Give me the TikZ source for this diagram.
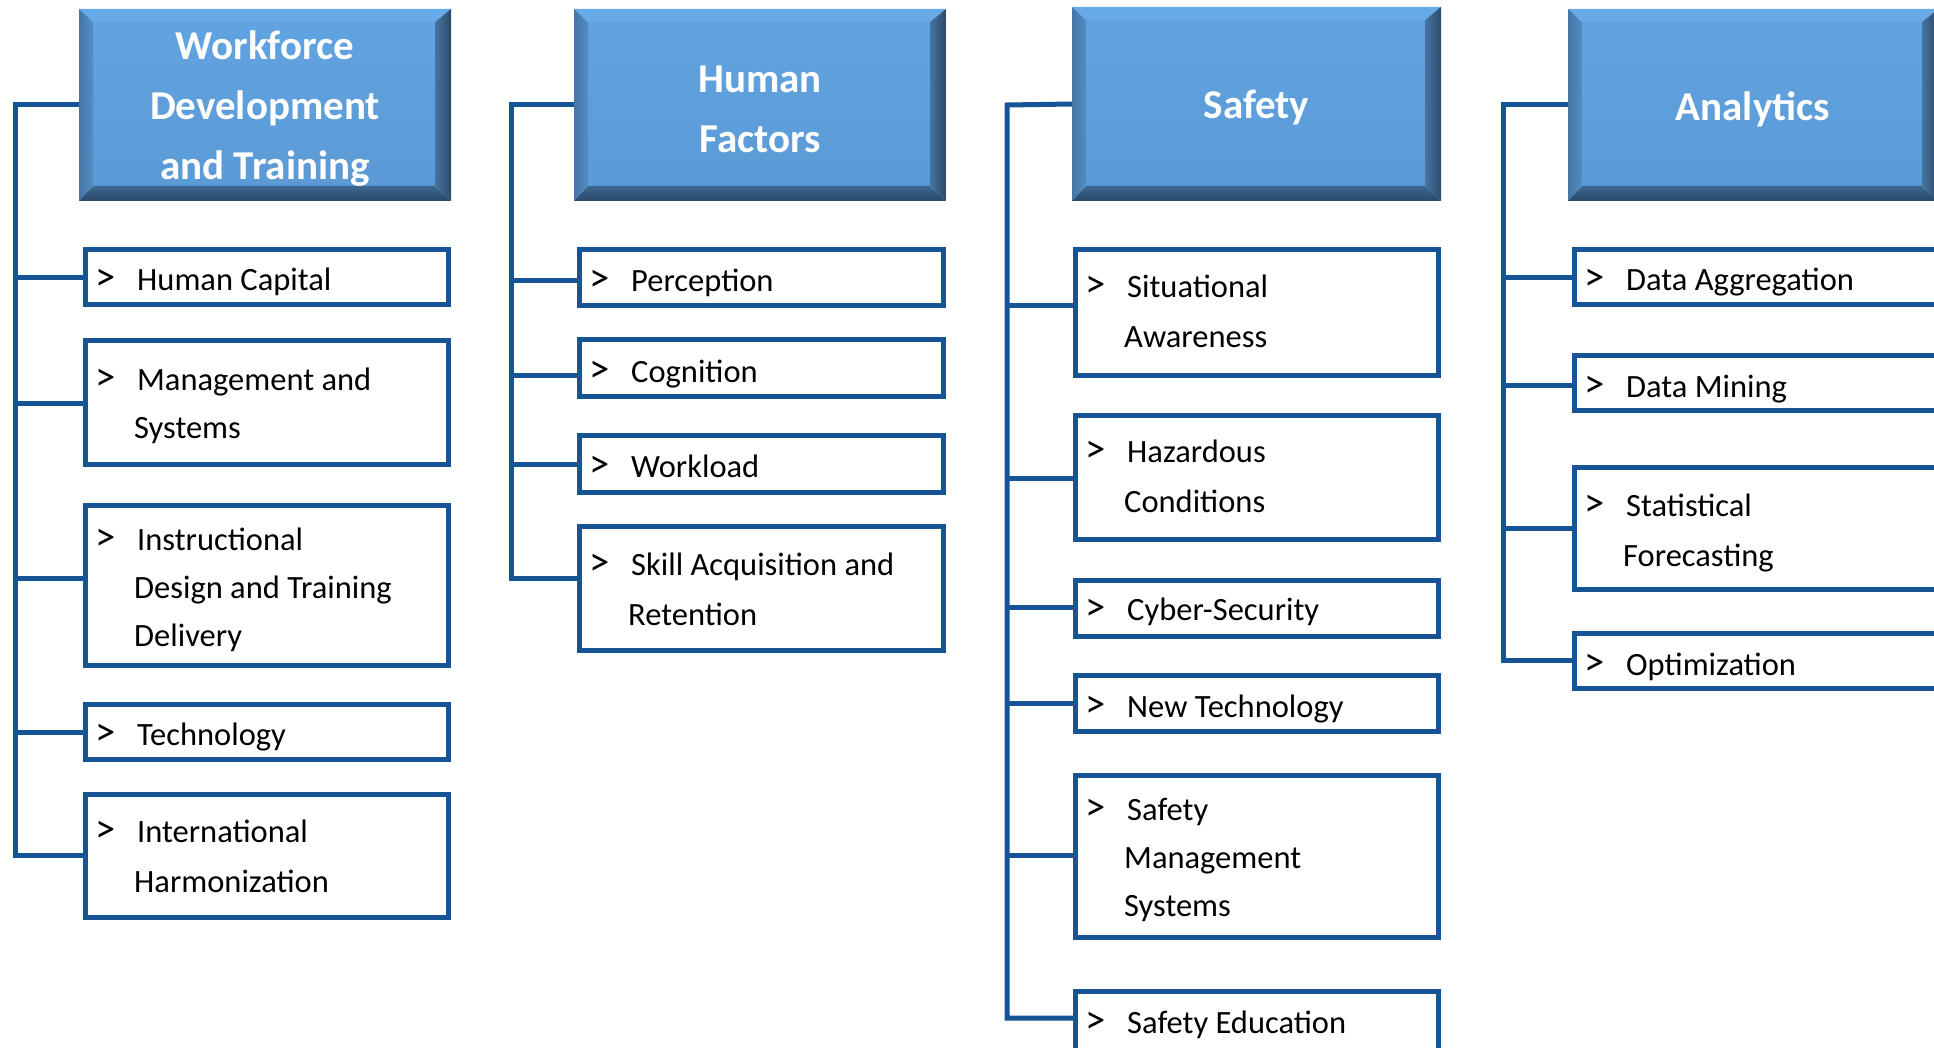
\documentclass[tikz,border=0pt]{standalone}
\usepackage{fontspec}
\setmainfont{Carlito}
\usetikzlibrary{calc}
\definecolor{lineblue}{RGB}{22,84,150}
\definecolor{hface}{RGB}{91,154,213}
\definecolor{hfacetop}{RGB}{97,163,225}
\definecolor{htop}{RGB}{102,170,232}
\definecolor{hleftout}{RGB}{68,117,166}
\definecolor{hleftin}{RGB}{84,141,196}
\definecolor{hrightin}{RGB}{70,116,162}
\definecolor{hrightout}{RGB}{44,74,106}
\definecolor{hbotin}{RGB}{62,104,146}
\definecolor{hbotout}{RGB}{42,72,104}
\tikzset{
  itemframe/.style={draw=lineblue, line width=5pt, fill=white, rectangle, inner sep=0pt},
  itemtext/.style={inner sep=0pt, font=\fontsize{32.5}{39}\selectfont, text=black},
  hdrtext/.style={inner sep=0pt, font=\fontsize{41}{60}\selectfont\bfseries, text=white},
  hdrframe/.style={rectangle, inner sep=0pt, outer sep=0pt, draw=none},
  conn/.style={draw=lineblue, line width=5pt},
}
% header: name, L, T, R, B
\newcommand\mkhdr[5]{%
  \node[hdrframe, anchor=north west, minimum width={#4-#2}, minimum height={#5-#3}] (#1) at (#2,#3) {};
  \coordinate (#1-inw) at ($(#1.north west)+(14,13)$);
  \coordinate (#1-ine) at ($(#1.north east)+(-16,13)$);
  \coordinate (#1-ise) at ($(#1.south east)+(-16,-15)$);
  \coordinate (#1-isw) at ($(#1.south west)+(14,-15)$);
  \shade[top color=hfacetop, bottom color=hface] (#1-inw) rectangle (#1-ise);
  \fill[htop] (#1.north west) -- (#1.north east) -- (#1-ine) -- (#1-inw) -- cycle;
  \shade[left color=hleftout, right color=hleftin] (#1.north west) -- (#1-inw) -- (#1-isw) -- (#1.south west) -- cycle;
  \shade[left color=hrightin, right color=hrightout] (#1.north east) -- (#1.south east) -- (#1-ise) -- (#1-ine) -- cycle;
  \shade[top color=hbotin, bottom color=hbotout] (#1.south west) -- (#1-isw) -- (#1-ise) -- (#1.south east) -- cycle;
}
% item: name, L, T, R, B, first baseline offset, line spacing, lines
\newcommand\mkitem[8]{%
  \node[itemframe, anchor=north west, minimum width={#4-#2-5}, minimum height={#5-#3-5}] (#1) at (#2,#3) {};
  \node[itemtext, anchor=base west] (#1-t) at ({#2+12},{#3+#6}) {\vtop{\baselineskip=#7pt #8}};
}
\newcommand\fl[1]{\hbox{\makebox[42pt][l]{\scalebox{1.25}{>}}#1}}
\newcommand\cl[1]{\hbox{\kern39pt #1}}
\newcommand\hl[1]{\hbox to 0pt{\hss #1\hss}}
\begin{document}
\begin{tikzpicture}[x=1pt,y=-1pt]
\useasboundingbox (0,0) rectangle (1934,1048);
\clip (0,0) rectangle (1934,1048);
\fill[white] (0,0) rectangle (1934,1048);

% ---------- column 1 ----------
\mkhdr{h1}{79}{9}{451}{201}
\node[hdrtext, anchor=base] (h1-t) at (265,60) {\vtop{\hl{Workforce}\hl{Development}\hl{and Training}}};
\mkitem{hc}{83}{247}{451}{307}{44}{48}{\fl{Human Capital}}
\mkitem{ms}{83}{338}{451}{467}{52}{48}{\fl{Management and}\cl{Systems}}
\mkitem{id}{83}{503}{451}{668}{47}{48}{\fl{Instructional}\cl{Design and Training}\cl{Delivery}}
\mkitem{tech}{83}{702}{451}{762}{43}{48}{\fl{Technology}}
\mkitem{ih}{83}{792}{451}{920}{50}{50}{\fl{International}\cl{Harmonization}}
\coordinate (v1t) at (15,105);
\coordinate (v1b) at (15,855);
\draw[conn] (h1.west) -- (v1t) -- (v1b) -- (ih.west |- v1b);
\draw[conn] (v1t |- 0,278) -- (hc.west |- 0,278);
\draw[conn] (v1t |- 0,403) -- (ms.west |- 0,403);
\draw[conn] (v1t |- 0,578) -- (id.west |- 0,578);
\draw[conn] (v1t |- 0,732) -- (tech.west |- 0,732);

% ---------- column 2 ----------
\mkhdr{h2}{574}{9}{946}{201}
\node[hdrtext, anchor=base] (h2-t) at (760,93) {\vtop{\hl{Human}\hl{Factors}}};
\mkitem{perc}{577}{247}{946}{308}{45}{48}{\fl{Perception}}
\mkitem{cog}{577}{337}{946}{399}{45}{48}{\fl{Cognition}}
\mkitem{wl}{577}{433}{946}{495}{44}{48}{\fl{Workload}}
\mkitem{skill}{577}{524}{946}{653}{51}{50}{\fl{Skill Acquisition and}\cl{Retention}}
\coordinate (v2t) at (511,105);
\coordinate (v2b) at (511,578);
\draw[conn] (h2.west) -- (v2t) -- (v2b) -- (skill.west |- v2b);
\draw[conn] (v2t |- 0,281) -- (perc.west |- 0,281);
\draw[conn] (v2t |- 0,375) -- (cog.west |- 0,375);
\draw[conn] (v2t |- 0,464) -- (wl.west |- 0,464);

% ---------- column 3 ----------
\mkhdr{h3}{1072}{7}{1441}{201}
\node[hdrtext, anchor=base] (h3-t) at (1256.5,119) {\vtop{\hl{Safety}}};
\mkitem{sa}{1073}{247}{1441}{378}{51}{50}{\fl{Situational}\cl{Awareness}}
\mkitem{hz}{1073}{413}{1441}{542}{49}{50}{\fl{Hazardous}\cl{Conditions}}
\mkitem{cyber}{1073}{578}{1441}{639}{42}{48}{\fl{Cyber-Security}}
\mkitem{nt}{1073}{673}{1441}{734}{44}{48}{\fl{New Technology}}
\mkitem{sms}{1073}{773}{1441}{940}{47}{48}{\fl{Safety}\cl{Management}\cl{Systems}}
\mkitem{se}{1073}{989}{1441}{1062}{44}{48}{\fl{Safety Education}}
\coordinate (v3t) at (1007,105);
\coordinate (v3b) at (1007,1018);
\draw[conn] (h3.west) -- (v3t) -- (v3b) -- (se.west |- v3b);
\draw[conn] (v3t |- 0,306) -- (sa.west |- 0,306);
\draw[conn] (v3t |- 0,478) -- (hz.west |- 0,478);
\draw[conn] (v3t |- 0,607) -- (cyber.west |- 0,607);
\draw[conn] (v3t |- 0,703) -- (nt.west |- 0,703);
\draw[conn] (v3t |- 0,855) -- (sms.west |- 0,855);

% ---------- column 4 ----------
\mkhdr{h4}{1568}{9}{1938}{201}
\node[hdrtext, anchor=base] (h4-t) at (1753,121) {\vtop{\hl{Analytics}}};
\mkitem{da}{1572}{247}{1948}{307}{44}{48}{\fl{Data Aggregation}}
\mkitem{dm}{1572}{353}{1948}{413}{44}{48}{\fl{Data Mining}}
\mkitem{sf}{1572}{465}{1948}{592}{51}{50}{\fl{Statistical}\cl{Forecasting}}
\mkitem{opt}{1572}{631}{1948}{691}{44}{48}{\fl{Optimization}}
\coordinate (v4t) at (1503,105);
\coordinate (v4b) at (1503,660);
\draw[conn] (h4.west) -- (v4t) -- (v4b) -- (opt.west |- v4b);
\draw[conn] (v4t |- 0,278) -- (da.west |- 0,278);
\draw[conn] (v4t |- 0,385) -- (dm.west |- 0,385);
\draw[conn] (v4t |- 0,528) -- (sf.west |- 0,528);
\end{tikzpicture}
\end{document}
